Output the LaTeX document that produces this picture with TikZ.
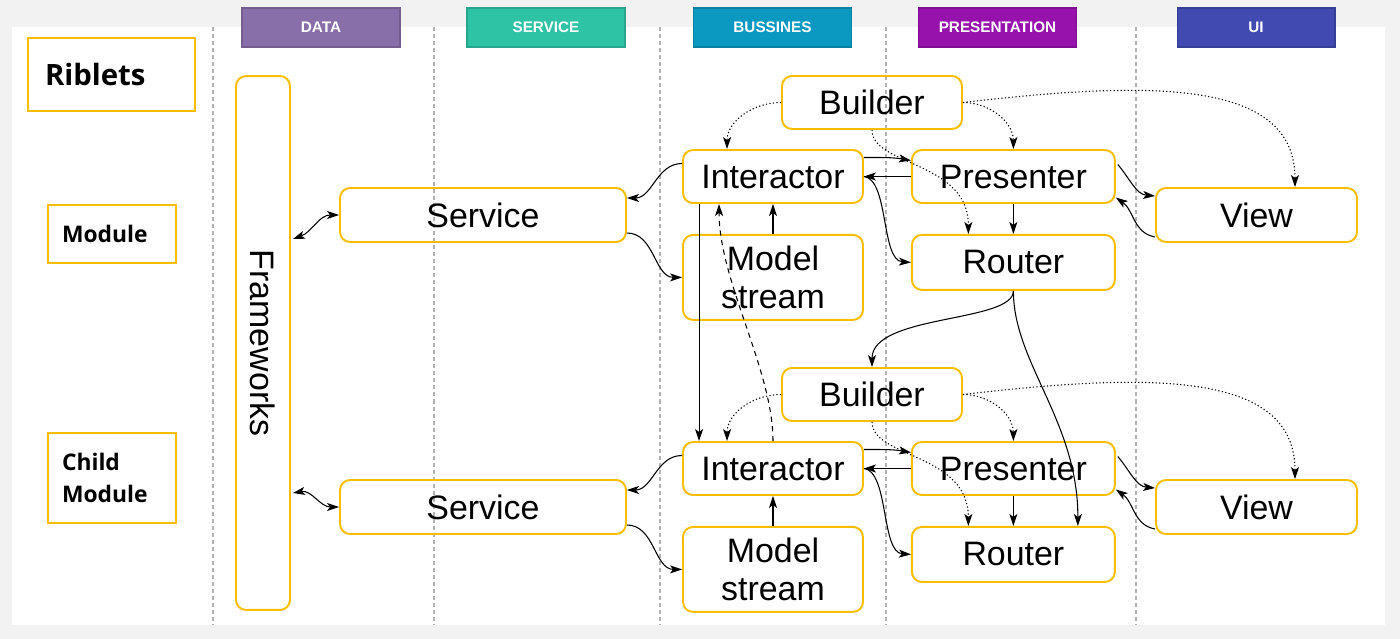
\documentclass[tikz,border=0pt]{standalone}
\usepackage{fontspec}
\setmainfont{Liberation Sans}
\newfontfamily\ribfont{Open Sans}
\usepackage{tikz}
\usetikzlibrary{arrows.meta,positioning,calc}
\definecolor{ribyellow}{RGB}{250,190,0}
\definecolor{bgray}{RGB}{242,242,242}
\definecolor{hdata}{RGB}{137,111,170}
\definecolor{hservice}{RGB}{47,195,166}
\definecolor{hbusiness}{RGB}{12,153,193}
\definecolor{hpresent}{RGB}{151,17,173}
\definecolor{hui}{RGB}{64,74,177}

\begin{document}
\begin{tikzpicture}[
  x=0.02cm, y=-0.02cm,
  box/.style={draw=ribyellow,line width=1.1pt,rounded corners=0.2cm,font=\fontsize{19.3}{21.5}\selectfont,align=center,inner sep=0pt},
  tag/.style={draw=ribyellow,line width=1.1pt,align=left},
  head/.style={minimum width=3.16cm,minimum height=0.78cm,text=white,line width=0.6pt,font=\fontsize{8.7}{10}\selectfont\bfseries},
  lane/.style={gray!60,dash pattern=on 2.3pt off 1.7pt,line width=0.6pt},
  arr/.style={-{Stealth[length=2.4mm,width=1.6mm,inset=0.6mm]},line width=0.6pt},
  biarr/.style={{Stealth[length=2.4mm,width=1.6mm,inset=0.6mm]}-{Stealth[length=2.4mm,width=1.6mm,inset=0.6mm]},line width=0.6pt},
  dots/.style={arr,dash pattern=on 0.7pt off 1.3pt}
]
\useasboundingbox (0,0) rectangle (1400,639);
\fill[bgray] (0,0) rectangle (1400,639);
\fill[white] (12,27) rectangle (1385,625);
\foreach \x in {213,434,660,886,1136} { \draw[lane] (\x,27) -- (\x,625); }

% layer headers
\node[head,fill=hdata,draw=hdata!85!black] (hdata) at (321,27.5) {DATA};
\node[head,fill=hservice,draw=hservice!85!black] (hserv) at (546,27.5) {SERVICE};
\node[head,fill=hbusiness,draw=hbusiness!85!black] (hbus) at (772.5,27.5) {BUSSINES};
\node[head,fill=hpresent,draw=hpresent!85!black] (hpres) at (997.5,27.5) {PRESENTATION};
\node[head,fill=hui,draw=hui!85!black] (hui) at (1256,27.5) {UI};

% row labels
\node[tag,minimum width=3.34cm,minimum height=1.46cm,text width=2.66cm,inner xsep=0.34cm,font=\ribfont\bfseries\fontsize{16.7}{20}\selectfont] (rib) at (111.5,74.5) {Riblets};
\node[tag,minimum width=2.56cm,minimum height=1.16cm,text width=2.0cm,inner xsep=0.28cm,font=\ribfont\bfseries\fontsize{13}{18.7}\selectfont] (mod) at (112,234) {Module};
\node[tag,minimum width=2.56cm,minimum height=1.8cm,text width=2.0cm,inner xsep=0.28cm,font=\ribfont\bfseries\fontsize{13}{18.7}\selectfont] (cmod) at (112,478) {Child\\Module};

\node[box,rotate=-90,minimum width=10.68cm,minimum height=1.08cm] (fw) at (263,343) {Frameworks};

\foreach \m/\dy in {1/0,2/292} {
  \node[box,minimum width=3.6cm,minimum height=1.06cm] (int\m) at (773,{176.5+\dy}) {Interactor};
  \node[box,minimum width=3.6cm,minimum height=1.7cm,below=0.6cm of int\m] (ms\m) {Model\\stream};
  \node[box,minimum width=4.06cm,minimum height=1.06cm,right=0.94cm of int\m] (pre\m) {Presenter};
  \node[box,minimum width=4.06cm,minimum height=1.1cm,below=0.6cm of pre\m] (rou\m) {Router};
  \node[box,minimum width=3.6cm,minimum height=1.06cm] (bld\m) at (872,{102.5+\dy}) {Builder};
  \node[box,minimum width=5.72cm,minimum height=1.08cm] (svc\m) at (483,{215+\dy}) {Service};
  \node[box,minimum width=4.02cm,minimum height=1.08cm] (view\m) at (1256.5,{215+\dy}) {View};

  \draw[arr] ($(int\m.west)+(0,-13)$) to[out=180,in=0] ($(svc\m.east)+(0,-17)$);
  \draw[arr] ($(svc\m.east)+(0,18)$) to[out=0,in=180] (ms\m.west);
  \draw[arr] (ms\m) -- (int\m);
  \draw[dots] (bld\m.west) to[out=180,in=90] ($(int\m.north west)+(45,0)$);
  \draw[dots] (bld\m.east) to[out=0,in=90] (pre\m.north);
  \draw[dots] (bld\m.east) .. controls +(188,-22) and +(0,-108) .. ($(view\m.north)+(38.5,0)$);
  \draw[dots] (bld\m.south) .. controls +(0,36) and +(0,-73) .. ($(rou\m.north)+(-45,0)$);
  \draw[arr] ($(int\m.east)+(0,-19)$) to[out=0,in=170] ($(pre\m.west)+(0,-16)$);
  \draw[arr] (pre\m.west) -- (int\m.east);
  \draw[arr] (int\m.east) .. controls +(25,3) and +(-30,-2) .. (rou\m.west);
  \draw[arr] (pre\m) -- (rou\m);
  \draw[arr] ($(pre\m.east)+(2,-12)$) to[out=-50,in=175] ($(view\m.west)+(0,-19)$);
  \draw[arr] ($(view\m.west)+(0,22)$) to[out=170,in=-35] ($(pre\m.east)+(0,21)$);
}

\draw[biarr] ($(fw.north)+(2,-104)$) to[out=20,in=180] (svc1.west);
\draw[biarr] ($(fw.north)+(2,150)$) to[out=10,in=180] (svc2.west);
\draw[arr] ($(int1.south west)+(17,0)$) -- ($(int2.north west)+(17,0)$);
\draw[arr,dash pattern=on 3pt off 2.5pt] (int2.north) .. controls +(0,-71) and +(0,77) .. ($(int1.south west)+(37,0)$);
\draw[arr] (rou1.south) .. controls +(0,32) and +(0,-53) .. (bld2.north);
\draw[arr] (rou1.south) .. controls +(0,72) and +(0,-105) .. ($(rou2.north)+(64.5,0)$);
\end{tikzpicture}
\end{document}
